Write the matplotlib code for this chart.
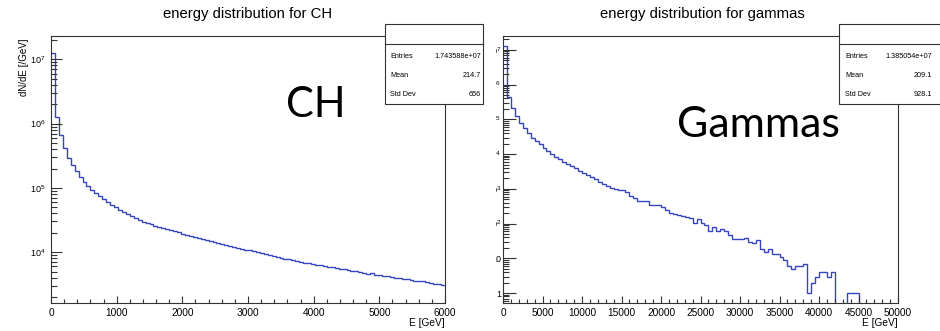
import matplotlib
matplotlib.use('Agg')
import matplotlib.pyplot as plt
import matplotlib.ticker as mticker
from matplotlib.patches import Rectangle
from matplotlib.lines import Line2D
import numpy as np

plt.rcParams['font.family'] = ['Liberation Sans', 'DejaVu Sans']
plt.rcParams['mathtext.fontset'] = 'custom'
plt.rcParams['mathtext.rm'] = 'Liberation Sans'
plt.rcParams['mathtext.default'] = 'regular'

# CH: 100 bins, 0-6000 GeV
ch_edges = np.linspace(0, 6000, 101)
ch_counts = [
    12400000, 1280000, 660000, 410000, 290000, 230000, 181000, 148000, 125000, 108000,
    94000, 83000, 75000, 67000, 60000, 55000, 50000, 46000, 42000, 39000,
    36600, 34000, 32000, 29800, 28100, 27040, 25880, 24770, 23770, 22800,
    21880, 21040, 20230, 19450, 18710, 17990, 17340, 16710, 16110, 15520,
    14960, 14420, 13900, 13400, 12940, 12500, 12080, 11700, 11320, 10960,
    10620, 10280, 9950, 9640, 9330, 9040, 8750, 8490, 8220, 7960,
    7710, 7460, 7240, 7060, 6890, 6710, 6550, 6400, 6240, 6100,
    5940, 5810, 5660, 5530, 5400, 5270, 5140, 5020, 4910, 4800,
    4520, 4700, 4490, 4400, 4300, 4210, 4110, 4030, 3940, 3850,
    3770, 3690, 3610, 3530, 3510, 3470, 3310, 3240, 3160, 3090,
]

# gammas: 100 bins, 0-50000 GeV
gam_edges = np.linspace(0, 50000, 101)
gam_counts = [
    12800000, 450000, 215000, 121000, 81000, 57000, 40000, 30000, 23700, 18900,
    15200, 12400, 10200, 8500, 7200, 6100, 5300, 4500, 3860, 3300,
    2900, 2490, 2180, 1910, 1600, 1370, 1170, 1080, 1020, 930,
    920, 830, 630, 540, 460, 455, 440, 350, 345, 335,
    295, 250, 200, 190, 174, 170, 160, 145, 102, 135,
    102, 90, 62, 78, 60, 70, 60, 46, 36, 35,
    36, 39, 29, 28, 33, 19, 15, 18, 13, 13,
    11, 9, 6, 5, 6, 6, 7, 1, 2, 3,
    4, 4, 3, 4, 0, 0, 0, 1, 1, 1,
    0, 0, 0, 0, 0, 0, 0, 0, 0, 0,
]

titles = ['energy distribution for CH', 'energy distribution for gammas']
big_labels = ['CH', 'Gammas']
stats_ch = ['1.743588e+07', '214.7', '656']
stats_gam = ['1.385054e+07', '209.1', '928.1']
stat_names = ['Entries', 'Mean', 'Std Dev']

W, H = 940, 331
fig = plt.figure(figsize=(W / 100, H / 100), dpi=100)


def box(x0, y0, x1, y1):
    return [x0 / W, 1 - y1 / H, (x1 - x0) / W, (y1 - y0) / H]


def root_log(v, pos):
    k = int(round(np.log10(v)))
    if k == 0:
        return '1'
    if k == 1:
        return '10'
    return r'$10^{%d}$' % k


line_col = '#3545c0'
frame_col = '#333333'

ax1 = fig.add_axes(box(51, 36, 445, 303))
ax2 = fig.add_axes(box(503, 36, 898, 303))

for ax, edges, counts in [(ax1, ch_edges, ch_counts), (ax2, gam_edges, gam_counts)]:
    vals = np.array(counts, dtype=float)
    vals = np.where(vals > 0, vals, 1e-3)
    ax.stairs(vals, edges, baseline=None, color=line_col, lw=1.0)
    ax.set_yscale('log')
    ax.set_xlim(edges[0], edges[-1])
    for s in ax.spines.values():
        s.set_color(frame_col)
        s.set_linewidth(0.8)
    ax.yaxis.set_major_locator(mticker.LogLocator(base=10, numticks=20))
    ax.yaxis.set_minor_locator(mticker.LogLocator(base=10, subs=np.arange(2, 10), numticks=100))
    ax.yaxis.set_major_formatter(mticker.FuncFormatter(root_log))
    ax.yaxis.set_minor_formatter(mticker.NullFormatter())
    ax.tick_params(which='both', direction='in', color=frame_col, width=0.8)
    ax.tick_params(axis='x', which='major', length=5.3, labelsize=7.3)
    ax.tick_params(axis='x', which='minor', length=3)
    ax.tick_params(axis='y', labelsize=6.5)

ax1.set_ylim(1.62e3, 2.3e7)
ax1.xaxis.set_major_locator(mticker.MultipleLocator(1000))
ax1.xaxis.set_minor_locator(mticker.MultipleLocator(200))
ax1.tick_params(axis='y', which='major', length=8, pad=4)
ax1.tick_params(axis='y', which='minor', length=4.3)

ax2.set_ylim(0.52, 2.5e7)
ax2.xaxis.set_major_locator(mticker.MultipleLocator(5000))
ax2.xaxis.set_minor_locator(mticker.MultipleLocator(1000))
ax2.tick_params(axis='y', which='major', length=9, pad=1.5)
ax2.tick_params(axis='y', which='minor', length=4)

# titles and axis titles
fig.text(248 / W, 1 - 14 / H, titles[0], ha='center', va='center', fontsize=10.7)
fig.text(702 / W, 1 - 14 / H, titles[1], ha='center', va='center', fontsize=10.7)
fig.text(24 / W, 1 - 38 / H, 'dN/dE [/GeV]', rotation=90, ha='center', va='top', fontsize=7)
fig.text(445 / W, 1 - 323 / H, 'E [GeV]', ha='right', va='center', fontsize=7.3)
fig.text(898 / W, 1 - 323 / H, 'E [GeV]', ha='right', va='center', fontsize=7.3)

# big annotations
fig.text(316 / W, 1 - 117 / H, big_labels[0], ha='center', va='baseline', fontsize=30, family='Lato')
fig.text(758 / W, 1 - 137 / H, big_labels[1], ha='center', va='baseline', fontsize=31, family='Lato')

# the left screenshot overlaps the right one's tick labels
fig.add_artist(Rectangle((460 / W, 0.04), 36 / W, 0.96, transform=fig.transFigure,
                         fc='white', ec='none', zorder=5))


def stat_box(x0, x1, lab_x, val_x, values):
    fig.add_artist(Rectangle((x0 / W, 1 - 104 / H), (x1 - x0) / W, 80 / H,
                             transform=fig.transFigure, fc='white', ec=frame_col,
                             lw=0.8, zorder=10))
    fig.add_artist(Line2D([x0 / W, x1 / W], [1 - 44 / H, 1 - 44 / H],
                          transform=fig.transFigure, color=frame_col, lw=0.8, zorder=11))
    for i, (name, v) in enumerate(zip(stat_names, values)):
        yy = 1 - (57 + 18.5 * i) / H
        fig.text(lab_x / W, yy, name, ha='left', va='center', fontsize=5.2, zorder=12)
        fig.text(val_x / W, yy, v, ha='right', va='center', fontsize=5.2, zorder=12)


stat_box(385, 483, 390, 481, stats_ch)
stat_box(839, 960, 845, 932, stats_gam)

fig.savefig('out.png', dpi=100)
